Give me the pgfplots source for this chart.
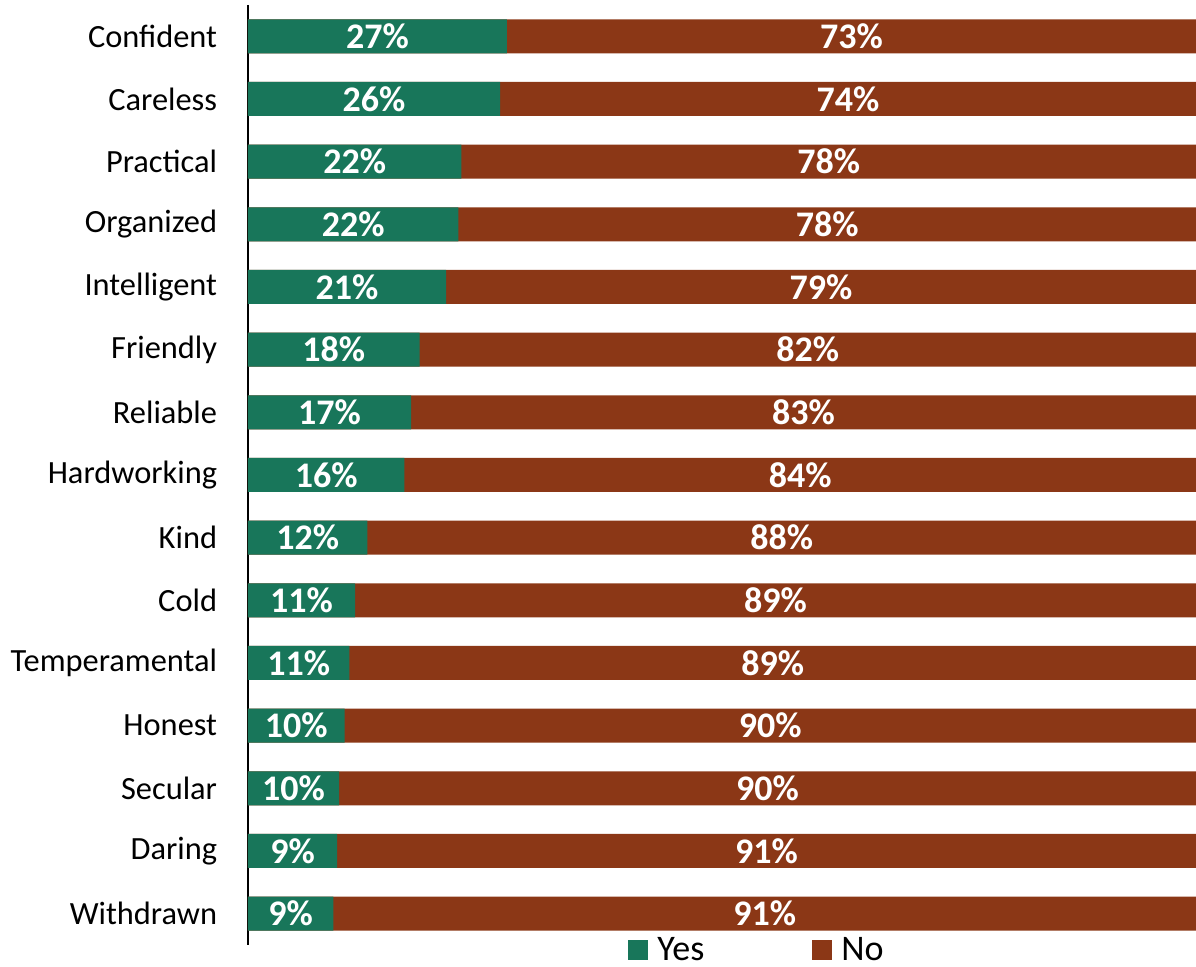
\documentclass[border=0pt]{standalone}
\usepackage{fontspec}
\setmainfont{Carlito}
\usepackage{pgfplots}
\usepackage{pgfplotstable}
\pgfplotsset{compat=1.18}

\definecolor{yesgreen}{HTML}{18765A}
\definecolor{nobrown}{HTML}{8B3716}

% bar lengths, labels as printed
\pgfplotstableread{
name          yes   no    ylab nlab
Confident     27.3  72.7  27   73
Careless      26.6  73.4  26   74
Practical     22.5  77.5  22   78
Organized     22.2  77.8  22   78
Intelligent   20.9  79.1  21   79
Friendly      18.1  81.9  18   82
Reliable      17.2  82.8  17   83
Hardworking   16.5  83.5  16   84
Kind          12.6  87.4  12   88
Cold          11.3  88.7  11   89
Temperamental 10.7  89.3  11   89
Honest        10.2  89.8  10   90
Secular        9.6  90.4  10   90
Daring         9.4  90.6   9   91
Withdrawn      9.0  91.0   9   91
}\traits

\begin{document}
\begin{tikzpicture}
\begin{axis}[
    scale only axis,
    width=474pt, height=470pt,
    xmin=0, xmax=100,
    ymin=-0.5, ymax=14.5,
    y dir=reverse,
    hide x axis,
    axis y line*=left,
    y axis line style={black, line width=1pt, -},
    ytick=data,
    yticklabels from table={\traits}{name},
    ytick style={draw=none},
    y tick label style={font=\fontsize{16.2}{16}\selectfont, inner sep=0pt, xshift=-11pt},
    xbar, bar width=17pt, bar shift=0pt,
    reverse legend,
    legend columns=2,
    legend style={draw=none, fill=none, at={(0.538,0)}, anchor=center, yshift=-2.5pt,
        font=\fontsize{18}{18}\selectfont, inner sep=0pt,
        /tikz/every even column/.append style={column sep=52pt}},
    legend image code/.code={\path[#1, draw=none] (0pt,-5pt) rectangle (10pt,5pt);
        \path (12.5pt,0pt);},
    nodes near coords style={text=white, font=\bfseries\fontsize{18}{18}\selectfont},
]
\addplot[fill=nobrown, draw=none] table[x expr=\thisrow{yes}+\thisrow{no}, y expr=\coordindex] {\traits};
\addlegendentry{No}
\addplot[fill=yesgreen, draw=none] table[x=yes, y expr=\coordindex] {\traits};
\addlegendentry{Yes}

\addplot[forget plot, xbar=false, draw=none, mark=none, only marks,
    point meta=explicit symbolic,
    nodes near coords={\pgfplotspointmeta\%}, nodes near coords align=center]
    table[x expr=\thisrow{yes}/2, y expr=\coordindex, meta=ylab] {\traits};
\addplot[forget plot, xbar=false, draw=none, mark=none, only marks,
    point meta=explicit symbolic,
    nodes near coords={\pgfplotspointmeta\%}, nodes near coords align=center]
    table[x expr=(\thisrow{yes}+100)/2, y expr=\coordindex, meta=nlab] {\traits};
\end{axis}
\pgfresetboundingbox
\path[use as bounding box] (-124pt,-11pt) rectangle (474pt,472.5pt);
\end{tikzpicture}
\end{document}
